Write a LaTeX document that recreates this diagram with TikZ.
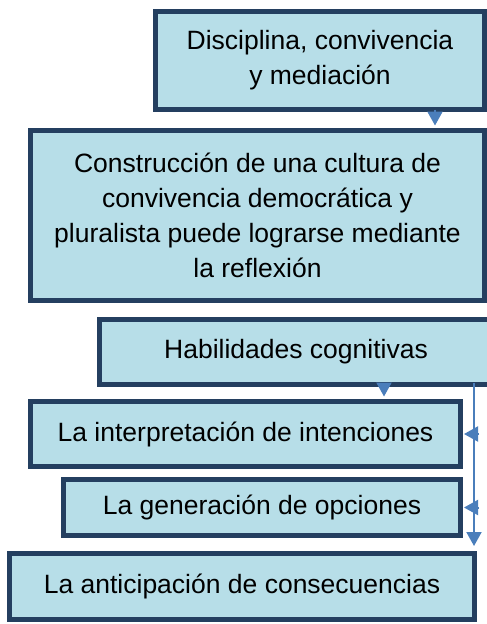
\documentclass[tikz,border=0pt]{standalone}
\usepackage{fontspec}
\setmainfont{Liberation Sans}
\usetikzlibrary{arrows.meta}
\definecolor{borde}{HTML}{243F60}
\definecolor{relleno}{HTML}{B7DEE8}
\definecolor{azulflecha}{HTML}{4A7EBB}
\begin{document}
\begin{tikzpicture}[x=1pt,y=-1pt,
  caja/.style={draw=borde,fill=relleno,line width=5pt,inner sep=0pt,align=center,
    font=\fontsize{26.5}{35}\selectfont},
  flecha/.style={azulflecha,line width=2pt,-{Triangle[width=15pt,length=14pt]}}]
\useasboundingbox (0,0) rectangle (487,624);
\node[caja,minimum width=329pt,minimum height=98pt] (disc) at (320,60.5) {Disciplina, convivencia\\y mediación};
\node[caja,minimum width=454pt,minimum height=170pt] (constr) at (257.5,215.5) {Construcción de una cultura de\\convivencia democrática y\\pluralista puede lograrse mediante\\la reflexión};
\node[caja,minimum width=393pt,minimum height=65pt] (hab) at (296,352) {Habilidades cognitivas};
\node[caja,minimum width=430pt,minimum height=65pt] (interp) at (245.5,434) {La interpretación de intenciones};
\node[caja,minimum width=397pt,minimum height=56pt] (gener) at (262,507.5) {La generación de opciones};
\node[caja,minimum width=465pt,minimum height=66pt] (antic) at (242,586.5) {La anticipación de consecuencias};
\draw[flecha,shorten <=2.5pt,shorten >=2.5pt] (disc.south -| 435,0) -- (constr.north -| 435,0);
\draw[flecha,shorten <=2.5pt,shorten >=2.5pt] (hab.south -| 384,0) -- (interp.north -| 384,0);
\draw[flecha,shorten <=-4.5pt,shorten >=5pt] (hab.south -| 474,0) -- (antic.north -| 474,0);
\draw[flecha,shorten >=1pt] (interp.east -| 479,0) -- (interp.east);
\draw[flecha,shorten >=1pt] (gener.east -| 479,0) -- (gener.east);
\end{tikzpicture}
\end{document}
